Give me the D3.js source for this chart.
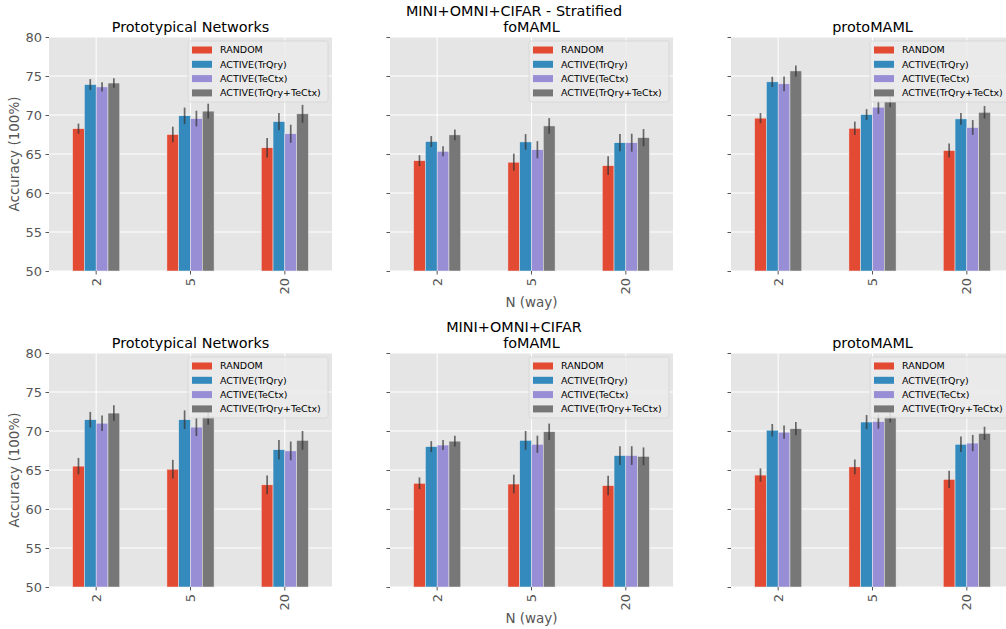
<!DOCTYPE html>
<html>
<head>
<meta charset="utf-8">
<script src="https://cdn.jsdelivr.net/npm/d3@7/dist/d3.min.js"></script>
<style>
  html, body { margin: 0; padding: 0; background: #ffffff; }
  svg { display: block; font-family: "DejaVu Sans", sans-serif; }
</style>
</head>
<body>
<svg id="chart" width="1006" height="629"></svg>
<script>
// Categories and series
const ways = ["2", "5", "20"];
const seriesNames = ["RANDOM", "ACTIVE(TrQry)", "ACTIVE(TeCtx)", "ACTIVE(TrQry+TeCtx)"];
const seriesColors = ["#E24A33", "#348ABD", "#988ED5", "#777777"];
const methodNames = ["Prototypical Networks", "foMAML", "protoMAML"];
const rowTitles = ["MINI+OMNI+CIFAR - Stratified", "MINI+OMNI+CIFAR"];
const yTicks = [50, 55, 60, 65, 70, 75, 80];

// Mean accuracy, one row per series, one column per N (way)
const stratProtoMean = [[68.25, 67.5, 65.8], [73.9, 69.9, 69.15], [73.6, 69.55, 67.6], [74.1, 70.5, 70.15]];
const stratProtoErr  = [[0.65, 1.0, 1.25], [0.7, 1.05, 1.1], [0.6, 1.0, 1.15], [0.6, 0.95, 1.15]];
const stratFoMean    = [[64.15, 63.95, 63.5], [66.6, 66.55, 66.45], [65.35, 65.55, 66.45], [67.45, 68.6, 67.1]];
const stratFoErr     = [[0.7, 1.1, 1.2], [0.7, 1.0, 1.1], [0.65, 1.1, 1.15], [0.7, 1.0, 1.1]];
const stratPmMean    = [[69.6, 68.3, 65.45], [74.25, 70.05, 69.5], [74.0, 71.0, 68.4], [75.65, 71.7, 70.35]];
const stratPmErr     = [[0.65, 0.85, 0.9], [0.65, 0.7, 0.75], [0.95, 0.85, 0.95], [0.7, 0.7, 0.8]];

const mixProtoMean = [[65.5, 65.1, 63.1], [71.45, 71.45, 67.6], [71.0, 70.5, 67.45], [72.3, 71.9, 68.8]];
const mixProtoErr  = [[1.05, 1.2, 1.2], [1.0, 1.2, 1.25], [1.0, 1.15, 1.2], [1.0, 1.1, 1.2]];
const mixFoMean    = [[63.3, 63.2, 63.0], [68.0, 68.8, 66.85], [68.2, 68.3, 66.85], [68.7, 69.9, 66.75]];
const mixFoErr     = [[0.75, 1.2, 1.25], [0.7, 1.2, 1.2], [0.65, 1.1, 1.2], [0.7, 1.05, 1.15]];
const mixPmMean    = [[64.35, 65.4, 63.8], [70.1, 71.15, 68.3], [69.85, 71.2, 68.45], [70.3, 71.9, 69.7]];
const mixPmErr     = [[0.85, 0.95, 1.1], [0.8, 0.9, 1.0], [0.85, 0.9, 1.05], [0.85, 0.8, 0.85]];

const panelData = [
  [[stratProtoMean, stratProtoErr], [stratFoMean, stratFoErr], [stratPmMean, stratPmErr]],
  [[mixProtoMean, mixProtoErr], [mixFoMean, mixFoErr], [mixPmMean, mixPmErr]]
];

// Layout
const panelLefts = [49, 390, 731];
const panelWidth = 283;
const rowTops = [37, 353];
const panelHeight = 234;
const textGray = "#555555";

const svg = d3.select("#chart");

rowTitles.forEach((t, r) => {
  svg.append("text")
    .attr("x", 514).attr("y", rowTops[r] - 21)
    .attr("text-anchor", "middle")
    .attr("font-size", 14.4).attr("fill", "#000")
    .text(t);
});

panelData.forEach((row, r) => {
  row.forEach(([means, errs], c) => {
    const x0 = panelLefts[c], y0 = rowTops[r];
    const g = svg.append("g").attr("transform", `translate(${x0},${y0})`);

    const x = d3.scaleLinear().domain([-0.5, 2.5]).range([0, panelWidth]);
    const y = d3.scaleLinear().domain([50, 80]).range([panelHeight, 0]);

    g.append("rect").attr("width", panelWidth).attr("height", panelHeight).attr("fill", "#E5E5E5");

    // grid
    g.append("g").selectAll("line").data(yTicks).join("line")
      .attr("x1", 0).attr("x2", panelWidth)
      .attr("y1", d => y(d)).attr("y2", d => y(d))
      .attr("stroke", "#ffffff").attr("stroke-width", 1);
    g.append("g").selectAll("line").data(ways).join("line")
      .attr("x1", (d, i) => x(i)).attr("x2", (d, i) => x(i))
      .attr("y1", 0).attr("y2", panelHeight)
      .attr("stroke", "#ffffff").attr("stroke-width", 1);

    // bars with error bars
    const barW = 0.125;
    seriesNames.forEach((s, si) => {
      const pts = ways.map((w, wi) => ({ wi, v: means[si][wi], e: errs[si][wi] }));
      g.append("g").selectAll("rect").data(pts).join("rect")
        .attr("x", d => x(d.wi + (si - 2) * barW))
        .attr("width", x(barW) - x(0))
        .attr("y", d => y(d.v))
        .attr("height", d => y(50) - y(d.v))
        .attr("fill", seriesColors[si])
        .attr("stroke", "#EEEEEE").attr("stroke-width", 0.5);
      g.append("g").selectAll("line").data(pts).join("line")
        .attr("x1", d => x(d.wi + (si - 1.5) * barW))
        .attr("x2", d => x(d.wi + (si - 1.5) * barW))
        .attr("y1", d => y(d.v - d.e))
        .attr("y2", d => y(d.v + d.e))
        .attr("stroke", "#333333").attr("stroke-opacity", 0.7).attr("stroke-width", 1.7);
    });

    // axes
    const yAxis = d3.axisLeft(y).tickValues(yTicks).tickSize(3.5).tickPadding(3.5)
      .tickFormat(c === 0 ? d3.format("d") : () => "");
    const ya = g.append("g").call(yAxis);
    ya.select(".domain").remove();
    ya.selectAll("line").attr("stroke", textGray);
    ya.selectAll("text").attr("fill", textGray).attr("font-size", 13)
      .attr("font-family", "DejaVu Sans");

    const xa = g.append("g").attr("transform", `translate(0,${panelHeight})`);
    xa.selectAll("line").data(ways).join("line")
      .attr("x1", (d, i) => x(i)).attr("x2", (d, i) => x(i))
      .attr("y1", 0).attr("y2", 3.5).attr("stroke", textGray);
    xa.selectAll("text").data(ways).join("text")
      .attr("transform", (d, i) => `translate(${x(i)},7) rotate(-90)`)
      .attr("text-anchor", "end").attr("dy", "0.35em")
      .attr("font-size", 13).attr("fill", textGray)
      .text(d => d);

    // title
    g.append("text").attr("x", panelWidth / 2).attr("y", -5)
      .attr("text-anchor", "middle").attr("font-size", 14.4).attr("fill", "#000")
      .text(methodNames[c]);

    if (c === 0) {
      g.append("text")
        .attr("transform", `translate(${-30},${panelHeight / 2}) rotate(-90)`)
        .attr("text-anchor", "middle").attr("font-size", 13.5).attr("fill", textGray)
        .text("Accuracy (100%)");
    }
    if (c === 1) {
      g.append("text").attr("x", panelWidth / 2).attr("y", panelHeight + 36)
        .attr("text-anchor", "middle").attr("font-size", 13.5).attr("fill", textGray)
        .text("N (way)");
    }

    // legend
    const lw = 140, lh = 61;
    const lg = g.append("g").attr("transform", `translate(${panelWidth - lw - 4},4)`);
    lg.append("rect").attr("width", lw).attr("height", lh).attr("rx", 2)
      .attr("fill", "#EBEBEB").attr("fill-opacity", 0.85)
      .attr("stroke", "#D5D5D5").attr("stroke-width", 0.8);
    seriesNames.forEach((s, si) => {
      const ry = 9 + si * 14.3;
      lg.append("rect").attr("x", 4).attr("y", ry - 3.5).attr("width", 20).attr("height", 7)
        .attr("fill", seriesColors[si]);
      lg.append("text").attr("x", 32).attr("y", ry).attr("dy", "0.35em")
        .attr("font-size", 9.5).attr("fill", "#000").text(s);
    });
  });
});
</script>
</body>
</html>
